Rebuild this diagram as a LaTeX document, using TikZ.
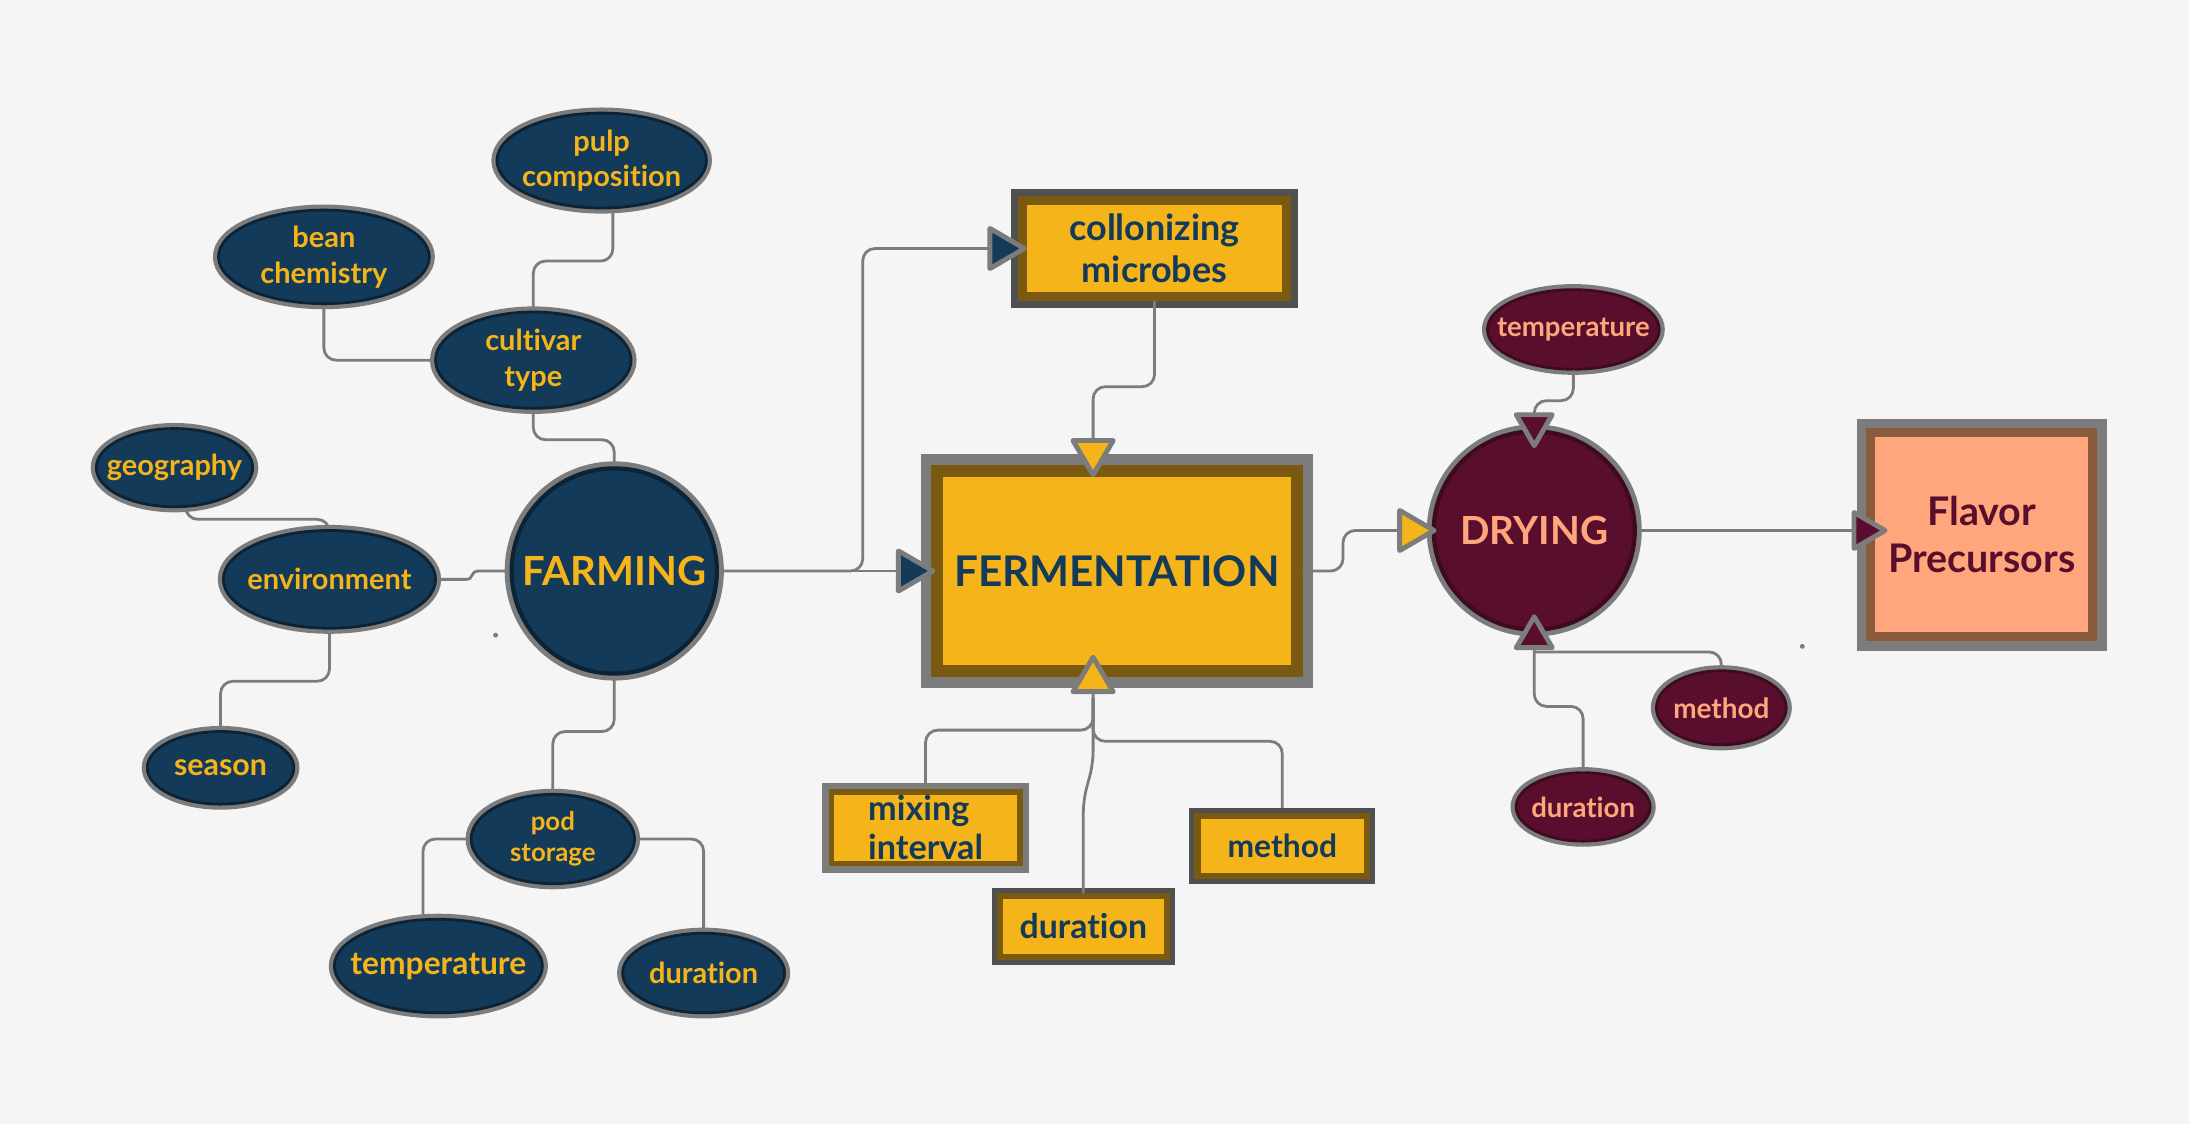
\documentclass[tikz,border=0pt]{standalone}
\usepackage{fontspec}
\setmainfont{Lato}[RawFeature={-liga}]
\usetikzlibrary{shapes.geometric,arrows.meta,calc}
\definecolor{bgc}{HTML}{F5F5F5}
\definecolor{navy}{HTML}{143A59}
\definecolor{navyd}{HTML}{0C2235}
\definecolor{gold}{HTML}{F4B41A}
\definecolor{brownb}{HTML}{7A5A10}
\definecolor{ringg}{HTML}{7C7C7C}
\definecolor{ringd}{HTML}{505050}
\definecolor{maroon}{HTML}{5A0E2E}
\definecolor{maroond}{HTML}{3E0A20}
\definecolor{salmon}{HTML}{FFA67D}
\definecolor{flavb}{HTML}{8A5A3C}
\pgfdeclarelayer{edges}
\pgfsetlayers{edges,main}
\newcommand\fsz[2]{\fontsize{#1}{#2}\selectfont\bfseries}
\tikzset{
  ell/.style 2 args={ellipse, inner sep=0pt, minimum width=#1, minimum height=#2,
    fill=navy, draw=navyd, line width=0.8pt, preaction={draw=ringg, line width=3.2pt}},
  mell/.style 2 args={ell={#1}{#2}, fill=maroon, draw=maroond},
  rbox/.style={rectangle, inner sep=0pt, fill=gold, draw=brownb},
  lbl/.style n args={3}{label={[font=#1, text=#2, align=center, inner sep=0pt]center:#3}},
  lbll/.style n args={3}{label={[font=#1, text=#2, align=left, inner sep=0pt]center:#3}},
  conn/.style={draw=ringg, line width=0.8pt, rounded corners=3.5pt},
  tipnavy/.tip={Triangle[length=12pt,width=13.6pt,fill=navy,line width=1.4pt,round]},
  tipgold/.tip={Triangle[length=12pt,width=13.6pt,fill=gold,line width=1.4pt,round]},
  tipmar/.tip={Triangle[length=11pt,width=12.4pt,fill=maroon,line width=1.4pt,round]},
}
\begin{document}
\begin{tikzpicture}[x=0.4pt,y=-0.4pt]
\begin{pgfonlayer}{edges}
\fill[bgc] (0,0) rectangle (1568,805);
\end{pgfonlayer}
\useasboundingbox (0,0) rectangle (1568,805);
% farming cluster
\node[ell={60pt}{27.2pt}, lbl={\fsz{8.3}{10}}{gold}{pulp\\composition}] (pulp) at (431,115) {};
\node[ell={60.4pt}{26.8pt}, lbl={\fsz{8.3}{10.4}}{gold}{bean\\chemistry}] (bean) at (232,184) {};
\node[ell={56pt}{27.6pt}, lbl={\fsz{8.3}{10.4}}{gold}{cultivar\\type}] (cult) at (382,258) {};
\node[ell={44.8pt}{22.4pt}, lbl={\fsz{8.3}{10}}{gold}{geography}] (geo) at (125,335) {};
\node[ell={60.8pt}{28pt}, lbl={\fsz{8.3}{10}}{gold}{environment}] (env) at (236,415) {};
\node[ell={58.8pt}{58.8pt}, line width=1.2pt, preaction={draw=ringg, line width=4pt}, lbl={\fsz{11.5}{13}}{gold}{FARMING}] (farm) at (440,409) {};
\node[ell={42pt}{20.8pt}, lbl={\fsz{8.7}{10}}{gold}{season}] (season) at (158,550) {};
\node[ell={46.8pt}{25.6pt}, lbl={\fsz{7.4}{8.8}}{gold}{pod\\storage}] (pod) at (396,601) {};
\node[ell={59.6pt}{26.8pt}, lbl={\fsz{9.1}{10}}{gold}{temperature}] (tempFarm) at (314,692) {};
\node[ell={46.4pt}{22.8pt}, lbl={\fsz{8.3}{10}}{gold}{duration}] (durFarm) at (504,697) {};
% fermentation cluster
\node[rbox, minimum width=75.6pt, minimum height=27.6pt, line width=2.4pt, preaction={draw=ringd, line width=6.4pt}, lbl={\fsz{10.3}{12}}{navy}{collonizing\\microbes}] (colon) at (827,178) {};
\node[rbox, minimum width=103pt, minimum height=57.4pt, line width=3.4pt, preaction={draw=ringg, line width=9.4pt}, lbl={\fsz{12.1}{14}}{navy}{FERMENTATION}] (ferm) at (800,409) {};
\node[rbox, minimum width=54pt, minimum height=20.4pt, line width=1.6pt, preaction={draw=ringg, line width=5.2pt}, lbll={\fsz{9.8}{11.2}}{navy}{mixing\\interval}] (mixBox) at (663,593) {};
\node[rbox, minimum width=47.8pt, minimum height=17.4pt, line width=1.8pt, preaction={draw=ringd, line width=4.6pt}, lbl={\fsz{9.7}{11}}{navy}{duration}] (durBox) at (776,663.5) {};
\node[rbox, minimum width=48.6pt, minimum height=17pt, line width=1.8pt, preaction={draw=ringd, line width=4.6pt}, lbl={\fsz{9.1}{11}}{navy}{method}] (methBox) at (918.5,606) {};
% drying cluster
\node[mell={57.6pt}{56.8pt}, line width=1.2pt, preaction={draw=ringg, line width=4pt}, lbl={\fsz{11.1}{13}}{salmon}{DRYING}] (dry) at (1099,380) {};
\node[mell={49.2pt}{22.8pt}, lbl={\fsz{7.9}{9}}{salmon}{temperature}] (tempDry) at (1127,236) {};
\node[mell={37.2pt}{21.2pt}, lbl={\fsz{8}{9}}{salmon}{method}] (methDry) at (1233,507) {};
\node[mell={38.4pt}{19.6pt}, lbl={\fsz{7.9}{9}}{salmon}{duration}] (durDry) at (1134,578) {};
\node[rectangle, inner sep=0pt, fill=salmon, draw=flavb, line width=2.64pt, preaction={draw=ringg, line width=7.92pt}, minimum width=63.7pt, minimum height=58.5pt, lbl={\fsz{11.3}{13.6}}{maroon}{Flavor\\Precursors}] (flav) at (1419.5,383) {};
% plain connectors behind nodes
\begin{pgfonlayer}{edges}
\draw[conn] ($(pulp)+(8,0)$) |- (382,187) -- (cult);
\draw[conn] (bean) |- (cult);
\draw[conn] (cult) |- (440,315) -- (farm);
\draw[conn] ($(geo)+(8,0)$) |- (236,372) -- (env);
\draw[conn] (env) -- (325,415) .. controls (340,415) and (336,409) .. (352,409) -- (farm);
\draw[conn] (env) |- (158,488) -- (season);
\draw[conn] (farm) |- (396,524) -- (pod);
\draw[conn] (pod) -| ($(tempFarm)+(-11,0)$);
\draw[conn] (pod) -| (durFarm);
\draw[conn] (mixBox) |- (783,523) -- (783,500);
\draw[conn] (methBox) |- (783,531) -- (783,500);
\draw[conn] (methDry) |- (1099,467);
\end{pgfonlayer}
% arrow connectors
\draw[conn, -tipnavy] (farm.east) -- ($(ferm)+(-130,0)$);
\draw[conn, -tipnavy] (farm.east) -| (618,178) -- ($(colon)+(-91.5,0)$);
\draw[conn, -tipgold] (colon.south) |- (783,277) -- ($(ferm)+(-17,-67)$);
\draw[conn, -tipgold] (durBox.north) -- (776,573) -- (783,547) -- ($(ferm)+(-17,60)$);
\draw[conn, -tipgold] (ferm.east) -| (962,380) -- ($(dry)+(-70,0)$);
\draw[conn, -tipmar] (tempDry.south) |- (1099,287) -- ($(dry)+(0,-59)$);
\draw[conn, -tipmar] (durDry.north) |- (1099,506) -- ($(dry)+(0,60)$);
\draw[conn, -tipmar] (dry.east) -- ($(flav)+(-67.5,-3)$);
% stray specks
\fill[ringg] (355,455) circle (0.7pt);
\fill[ringg] (1291,463) circle (0.7pt);
\end{tikzpicture}
\end{document}
